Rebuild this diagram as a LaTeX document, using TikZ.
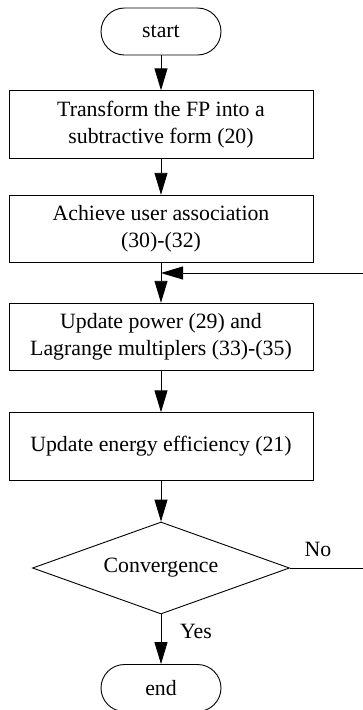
\documentclass[tikz,border=0pt]{standalone}
\usepackage{fontspec}
\setmainfont{Liberation Serif}
\usetikzlibrary{shapes.geometric,arrows.meta}
\tikzset{
  every node/.style={font=\fontsize{21.8}{27}\selectfont},
  term/.style={draw, line width=0.9pt, rectangle, rounded corners=23.5pt, minimum width=120pt, minimum height=47pt, inner sep=0pt},
  proc/.style={draw, line width=0.9pt, rectangle, minimum width=304pt, minimum height=67.5pt, inner sep=0pt, align=center},
  dec/.style={draw, line width=0.9pt, diamond, aspect=2.79, minimum width=257pt, minimum height=92pt, inner sep=0pt},
  conn/.style={line width=0.9pt},
  arr/.style={line width=0.9pt, -{Triangle[length=22pt,width=13pt]}},
  lbl/.style={inner sep=0pt}
}
\begin{document}
\begin{tikzpicture}[x=1pt,y=-1pt]
\useasboundingbox (0,0) rectangle (363,710);
\node[term] (start) at (161,31.5) {start};
\node[proc] (b1) at (161,124.5) {Transform the FP into a\\subtractive form (20)};
\node[proc] (b2) at (161,229) {Achieve user association\\(30)-(32)};
\node[proc] (b3) at (161,337) {Update power (29) and\\Lagrange multiplers (33)-(35)};
\node[proc] (b4) at (161,446.5) {Update energy efficiency (21)};
\node[dec] (d) at (161,568) {Convergence};
\node[term] (end) at (161,688) {end};
\coordinate (join) at (161,273);
\coordinate (fbR) at (364.5,568);
\coordinate (fbT) at (364.5,273);
\node[lbl] (no) at (318,549) {No};
\node[lbl] (yes) at (196,631) {Yes};
\draw[arr] (start) -- (b1);
\draw[arr] (b1) -- (b2);
\draw[arr] (b2) -- (b3);
\draw[arr] (b3) -- (b4);
\draw[arr] (b4) -- (d);
\draw[arr] (d) -- (end);
\draw[conn] (d.east) -- (fbR) -- (fbT);
\draw[arr] (fbT) -- (join);
\end{tikzpicture}
\end{document}
